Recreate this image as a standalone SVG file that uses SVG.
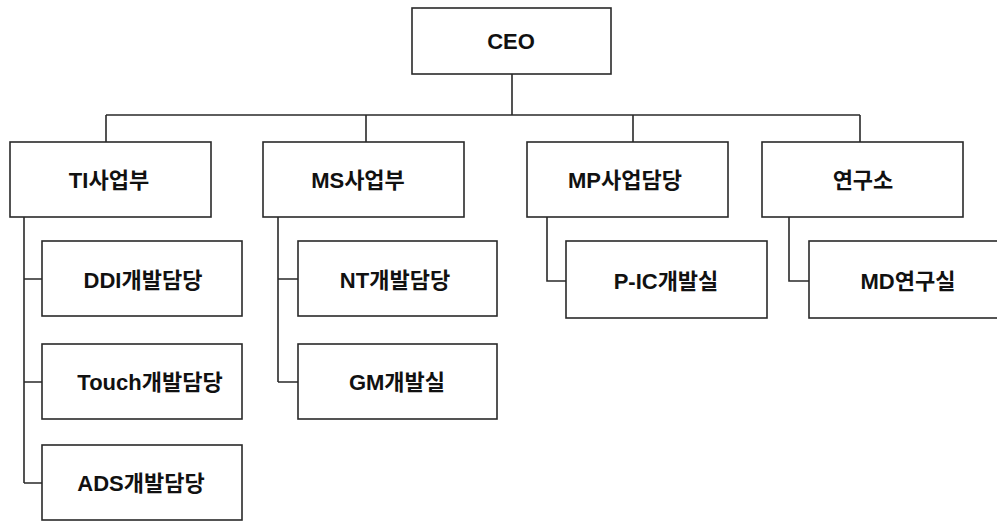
<svg xmlns="http://www.w3.org/2000/svg" width="997" height="522" viewBox="0 0 997 522">
<style>
.box{fill:#fff;stroke:#2a2a2a;stroke-width:1.6}
.lbl{font-family:"Liberation Sans","Noto Sans CJK KR",sans-serif;font-weight:bold;font-size:22px;fill:#111;text-anchor:middle;dominant-baseline:central}
.ln{fill:none;stroke:#2a2a2a;stroke-width:1.6}
</style>
<rect width="997" height="522" fill="#fff"/>
<g id="connectors">
<path class="ln" d="M512 74V115M106 115H860M106 115V142M366 115V142M633 115V142M860 115V142"/>
<path class="ln" d="M24 217V483M24 279H42M24 382H42M24 483H42"/>
<path class="ln" d="M278 217V382M278 279H298M278 382H298"/>
<path class="ln" d="M547 217V281H566"/>
<path class="ln" d="M789 217V281H809"/>
</g>
<g id="ceo"><rect class="box" x="412" y="8" width="199" height="66"/><text class="lbl" x="511" y="41">CEO</text></g>
<g id="ti"><rect class="box" x="10" y="142" width="201" height="75"/><text class="lbl" x="109" y="180">TI사업부</text></g>
<g id="ms"><rect class="box" x="263" y="142" width="201" height="75"/><text class="lbl" x="358" y="180">MS사업부</text></g>
<g id="mp"><rect class="box" x="527" y="142" width="201" height="75"/><text class="lbl" x="625" y="180">MP사업담당</text></g>
<g id="lab"><rect class="box" x="762" y="142" width="201" height="75"/><text class="lbl" x="863" y="180">연구소</text></g>
<g id="ddi"><rect class="box" x="42" y="241" width="200" height="75"/><text class="lbl" x="143" y="280">DDI개발담당</text></g>
<g id="touch"><rect class="box" x="42" y="344" width="200" height="75"/><text class="lbl" x="150" y="382">Touch개발담당</text></g>
<g id="ads"><rect class="box" x="42" y="445" width="200" height="75"/><text class="lbl" x="141" y="483">ADS개발담당</text></g>
<g id="nt"><rect class="box" x="298" y="241" width="199" height="75"/><text class="lbl" x="395" y="280">NT개발담당</text></g>
<g id="gm"><rect class="box" x="298" y="344" width="199" height="75"/><text class="lbl" x="397" y="382">GM개발실</text></g>
<g id="pic"><rect class="box" x="566" y="241" width="201" height="77"/><text class="lbl" x="666" y="281">P-IC개발실</text></g>
<g id="md"><rect class="box" x="809" y="241" width="201" height="77"/><text class="lbl" x="908" y="281">MD연구실</text></g>
</svg>
